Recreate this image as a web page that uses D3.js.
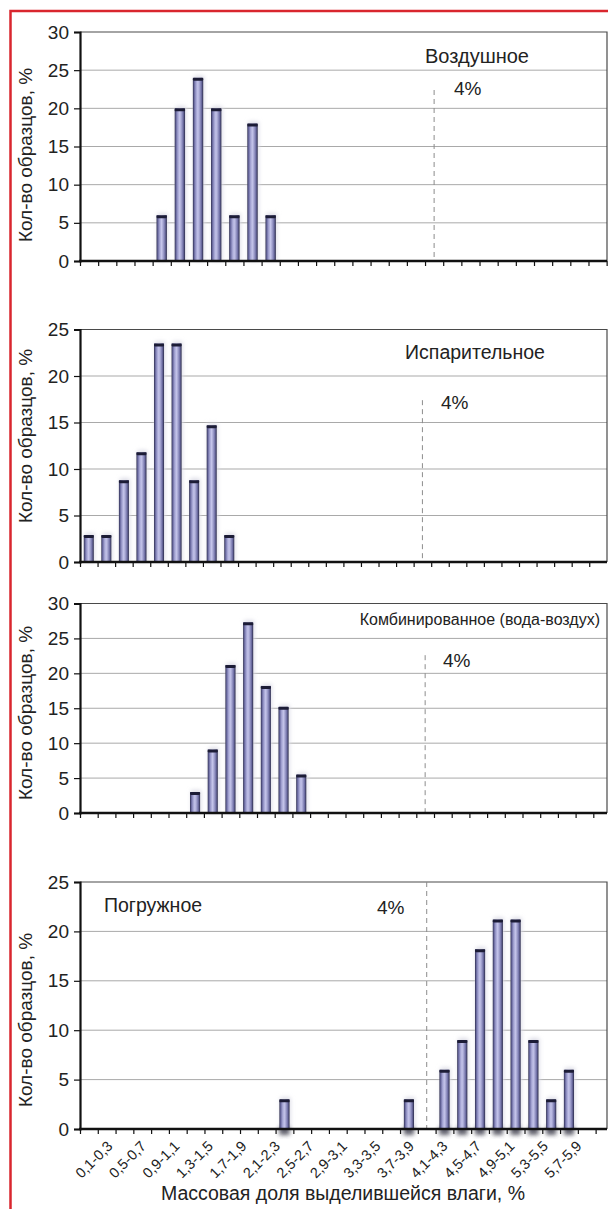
<!DOCTYPE html>
<html>
<head>
<meta charset="utf-8">
<script src="https://cdn.jsdelivr.net/npm/d3@7/dist/d3.min.js"></script>
<style>
  html, body { margin: 0; padding: 0; background: #ffffff; }
  svg { display: block; font-family: "Liberation Sans", Arial, Helvetica, sans-serif; }
</style>
</head>
<body>
<svg id="chart" width="608" height="1209"></svg>
<script>
// Moisture-release classes (mass fraction of released moisture, %)
const categories = [
  "0,1-0,3", "0,3-0,5", "0,5-0,7", "0,7-0,9", "0,9-1,1", "1,1-1,3", "1,3-1,5",
  "1,5-1,7", "1,7-1,9", "1,9-2,1", "2,1-2,3", "2,3-2,5", "2,5-2,7", "2,7-2,9",
  "2,9-3,1", "3,1-3,3", "3,3-3,5", "3,5-3,7", "3,7-3,9", "3,9-4,1", "4,1-4,3",
  "4,3-4,5", "4,5-4,7", "4,7-4,9", "4,9-5,1", "5,1-5,3", "5,3-5,5", "5,5-5,7",
  "5,7-5,9"
];

// Share of samples, % (one value per class)
const airValues = [0, 0, 0, 0, 6, 20, 24, 20, 6, 18, 6, 0, 0, 0, 0, 0, 0, 0, 0, 0, 0, 0, 0, 0, 0, 0, 0, 0, 0];
const evapValues = [2.9, 2.9, 8.8, 11.8, 23.5, 23.5, 8.8, 14.7, 2.9, 0, 0, 0, 0, 0, 0, 0, 0, 0, 0, 0, 0, 0, 0, 0, 0, 0, 0, 0, 0];
const combinedValues = [0, 0, 0, 0, 0, 0, 3.0, 9.1, 21.2, 27.3, 18.2, 15.2, 5.5, 0, 0, 0, 0, 0, 0, 0, 0, 0, 0, 0, 0, 0, 0, 0, 0];
const immersionValues = [0, 0, 0, 0, 0, 0, 0, 0, 0, 0, 0, 3.0, 0, 0, 0, 0, 0, 0, 3.0, 0, 6.0, 9.0, 18.2, 21.2, 21.2, 9.0, 3.0, 6.0, 0];

// Panel titles and axis maxima
const panelTitles = ["Воздушное", "Испарительное", "Комбинированное (вода-воздух)", "Погружное"];
const yMaxima = [30, 25, 30, 25];
const yTickStep = 5;

// 4 % limit marker
const limitCategory = "3,9-4,1";
const limitLabel = "4%";
const limitTops = [22.4, 17.4, 22.6, 25];

// Every second class is labelled on the bottom axis
const tickLabels = categories.filter((d, i) => i % 2 === 0);

const yAxisTitle = "Кол-во образцов, %";
const xAxisTitle = "Массовая доля выделившейся влаги, %";

const seriesList = [airValues, evapValues, combinedValues, immersionValues];

// Layout of the four stacked panels
const panels = [
  { top: 32,    bottom: 261,  step: 18.16, title: { x: 477, y: 63,  anchor: "middle", size: 20 },
    limit: { x: 454, y: 95 },  yTitle: 155 },
  { top: 329.5, bottom: 562,  step: 17.56, title: { x: 475, y: 359, anchor: "middle", size: 19.5 },
    limit: { x: 441, y: 409 }, yTitle: 436 },
  { top: 603.5, bottom: 813,  step: 17.70, title: { x: 600, y: 625, anchor: "end", size: 16 },
    limit: { x: 443, y: 667 }, yTitle: 713 },
  { top: 882,   bottom: 1129, step: 17.78, title: { x: 104, y: 912, anchor: "start", size: 19.5 },
    limit: { x: 377, y: 914 }, yTitle: 1020, labelled: true, groundShadow: true }
];
const plotLeft = 80;
const plotRight = 607;

const svg = d3.select("#chart");
const defs = svg.append("defs");

// Cylinder-like shading for the bars
const grad = defs.append("linearGradient").attr("id", "barGrad")
  .attr("x1", "0%").attr("x2", "100%").attr("y1", "0%").attr("y2", "0%");
[
  [0, "#2a2a4a"], [0.12, "#64649a"], [0.3, "#a0a0d0"], [0.48, "#c4c4ea"],
  [0.62, "#a8a8d4"], [0.82, "#7070a6"], [1, "#2a2a4a"]
].forEach(([o, c]) => grad.append("stop").attr("offset", o).attr("stop-color", c));

defs.append("filter").attr("id", "soft").attr("x", "-50%").attr("y", "-50%")
  .attr("width", "200%").attr("height", "200%")
  .append("feGaussianBlur").attr("stdDeviation", 2.2);

// Red page frame
svg.append("path")
  .attr("d", "M10.5,1209 L10.5,11 L608,11")
  .attr("fill", "none").attr("stroke", "#d9262e").attr("stroke-width", 2.5);

panels.forEach((p, pi) => {
  const values = seriesList[pi];
  const g = svg.append("g");

  const x = d3.scaleBand()
    .domain(categories)
    .range([plotLeft, plotLeft + p.step * categories.length])
    .paddingInner(0.43)
    .paddingOuter(0.215);

  const y = d3.scaleLinear().domain([0, yMaxima[pi]]).range([p.bottom, p.top]);
  const yTicks = d3.range(0, yMaxima[pi] + 0.001, yTickStep);

  // Horizontal gridlines
  g.append("g").selectAll("line")
    .data(yTicks.filter(t => t > 0 && t < yMaxima[pi]))
    .join("line")
    .attr("x1", plotLeft).attr("x2", plotRight)
    .attr("y1", d => y(d)).attr("y2", d => y(d))
    .attr("stroke", "#a9a9a9").attr("stroke-width", 1);

  // Top and right frame
  g.append("path")
    .attr("d", `M${plotLeft},${y(yMaxima[pi])} H${plotRight} V${p.bottom}`)
    .attr("fill", "none").attr("stroke", "#4a4a4a").attr("stroke-width", 1.2);

  // 4 % limit line
  const xl = x(limitCategory) + x.bandwidth() / 2;
  g.append("line")
    .attr("x1", xl).attr("x2", xl)
    .attr("y1", y(limitTops[pi])).attr("y2", p.bottom)
    .attr("stroke", "#8c8c8c").attr("stroke-width", 1)
    .attr("stroke-dasharray", "5,4");

  g.append("text")
    .attr("x", p.limit.x).attr("y", p.limit.y)
    .attr("font-size", 19).attr("fill", "#222")
    .text(limitLabel);

  g.append("text")
    .attr("x", p.title.x).attr("y", p.title.y)
    .attr("text-anchor", p.title.anchor)
    .attr("font-size", p.title.size).attr("fill", "#222")
    .text(panelTitles[pi]);

  const data = categories.map((c, i) => ({ c, v: values[i] })).filter(d => d.v > 0);

  // Soft halo and (for the last panel) a blurred footprint under the axis
  g.append("g").selectAll("rect")
    .data(data).join("rect")
    .attr("x", d => x(d.c) + 1).attr("width", x.bandwidth())
    .attr("y", d => y(d.v) - 2).attr("height", d => p.bottom - y(d.v) + 2)
    .attr("fill", "#dcdce6").attr("filter", "url(#soft)");

  if (p.groundShadow) {
    g.append("g").selectAll("rect")
      .data(data).join("rect")
      .attr("x", d => x(d.c)).attr("width", x.bandwidth())
      .attr("y", p.bottom - 2).attr("height", 8)
      .attr("fill", "#3a3a4a").attr("opacity", 0.8).attr("filter", "url(#soft)");
  }

  // Bars
  const bars = g.append("g").selectAll("g").data(data).join("g");
  bars.append("rect")
    .attr("x", d => x(d.c)).attr("width", x.bandwidth())
    .attr("y", d => y(d.v)).attr("height", d => p.bottom - y(d.v))
    .attr("fill", "url(#barGrad)");
  bars.append("rect")
    .attr("x", d => x(d.c)).attr("width", x.bandwidth())
    .attr("y", d => y(d.v)).attr("height", 3)
    .attr("rx", 1.2)
    .attr("fill", "#1c1c36");

  // Y axis
  const yAxis = g.append("g")
    .attr("transform", `translate(${plotLeft},0)`)
    .call(d3.axisLeft(y).tickValues(yTicks).tickSize(6).tickPadding(5).tickFormat(d3.format("d")));
  yAxis.select(".domain").attr("stroke", "#111").attr("stroke-width", 2.2);
  yAxis.selectAll(".tick line").attr("stroke", "#111").attr("stroke-width", 1.2);
  yAxis.selectAll(".tick text").attr("font-size", 19).attr("fill", "#222")
    .attr("font-family", "'Liberation Sans', Arial, sans-serif");

  // X axis: class boundaries marked with ticks
  const xEdges = d3.scaleLinear()
    .domain([0, categories.length])
    .range([plotLeft, plotLeft + p.step * categories.length]);
  const xAxis = g.append("g")
    .attr("transform", `translate(0,${p.bottom})`)
    .call(d3.axisBottom(xEdges).tickValues(d3.range(0, categories.length + 1))
      .tickSize(5).tickFormat(""));
  xAxis.select(".domain").remove();
  xAxis.selectAll(".tick line").attr("stroke", "#111").attr("stroke-width", 1.2);
  g.append("line")
    .attr("x1", plotLeft - 1).attr("x2", plotRight)
    .attr("y1", p.bottom).attr("y2", p.bottom)
    .attr("stroke", "#111").attr("stroke-width", 2.6);

  // Y axis title
  g.append("text")
    .attr("transform", `translate(32,${p.yTitle}) rotate(-90)`)
    .attr("text-anchor", "middle")
    .attr("font-size", 19).attr("fill", "#222")
    .text(yAxisTitle);

  if (p.labelled) {
    // Class labels, rotated
    const xl2 = d3.scalePoint().domain(tickLabels).range([113, 582]);
    const lab = g.append("g")
      .attr("transform", `translate(0,${p.bottom + 18})`)
      .call(d3.axisBottom(xl2).tickSize(0).tickPadding(0));
    lab.select(".domain").remove();
    lab.selectAll(".tick text")
      .attr("font-size", 14.5).attr("fill", "#222")
      .attr("font-family", "'Liberation Sans', Arial, sans-serif")
      .attr("text-anchor", "end")
      .attr("dy", 0).attr("y", 0)
      .attr("transform", "rotate(-45)");

    g.append("text")
      .attr("x", 343).attr("y", 1200)
      .attr("text-anchor", "middle")
      .attr("font-size", 19.5).attr("fill", "#222")
      .text(xAxisTitle);
  }
});
</script>
</body>
</html>
